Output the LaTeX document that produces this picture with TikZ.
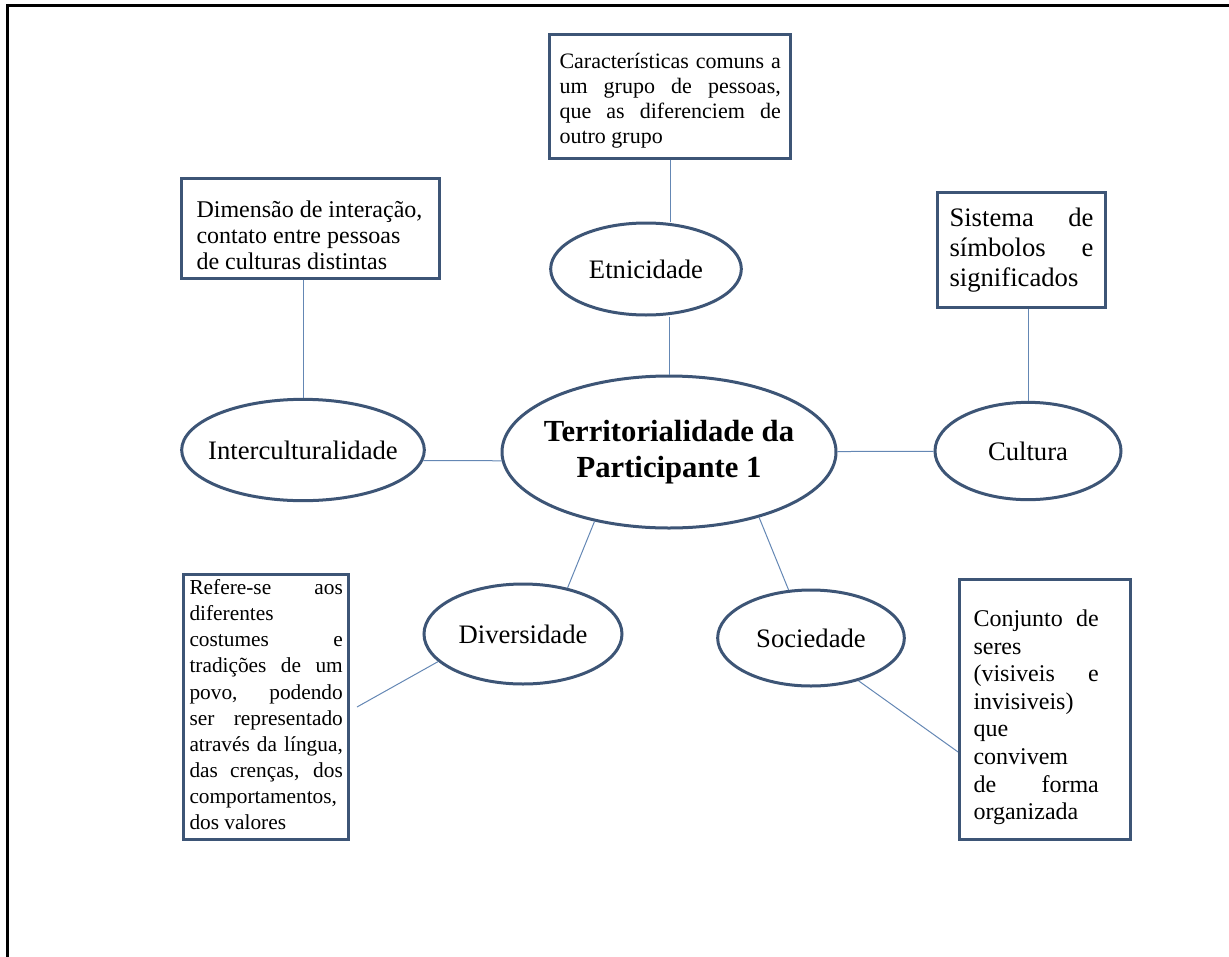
\documentclass[tikz,border=0pt]{standalone}
\usepackage{fontspec}
\setmainfont{Liberation Serif}
\usetikzlibrary{shapes.geometric}

\definecolor{shapeblue}{RGB}{61,85,118}
\definecolor{lineblue}{RGB}{100,135,180}
\newcommand{\justline}[2][\linewidth]{{\spaceskip=0pt\xspaceskip=0pt\makebox[#1][s]{#2}}}

\tikzset{
  concept/.style={ellipse, draw=shapeblue, line width=2.25pt, inner sep=0pt, font=\fontsize{20}{24}\selectfont},
  note/.style={rectangle, draw=shapeblue, line width=2.25pt, anchor=north west, align=flush left, inner ysep=0pt},
  link/.style={draw=lineblue, line width=0.75pt}
}

\begin{document}
\begin{tikzpicture}[x=0.75pt,y=0.75pt,yscale=-1,xscale=1]
\useasboundingbox (0,0) rectangle (1229,957);

%Frame
\draw [line width=2.25pt] (7,957) -- (7,5) -- (1229,5) ;

%Shape: Ellipse
\node [concept, minimum width=250.5pt, minimum height=114pt, inner xsep=-8pt, align=center, font=\bfseries\fontsize{23}{27}\selectfont] (centre) at (669,452) {Territorialidade da\\Participante 1};
\node [concept, minimum width=143pt, minimum height=69pt] (etnia) at (646,269) {Etnicidade};
\node [concept, minimum width=182pt, minimum height=76pt, inner xsep=-8pt] (inter) at (303,450) {Interculturalidade};
\node [concept, minimum width=139.5pt, minimum height=73pt] (cultura) at (1028,451) {Cultura};
\node [concept, minimum width=148.5pt, minimum height=75pt] (divers) at (523,634) {Diversidade};
\node [concept, minimum width=140pt, minimum height=72pt] (soc) at (811,638) {Sociedade};

%Shape: Rectangle
\node [note, text width=166pt, inner xsep=7.5pt, text height=25.5pt, text depth=67.5pt, font=\fontsize{16.5}{18.75}\selectfont] (etnicDesc) at (548,33)
  {\justline{Características comuns a}\\ \justline{um grupo de pessoas,}\\ \justline{que as diferenciem de}\\ outro grupo};
\node [note, text width=171pt, inner xsep=11.25pt, text height=29pt, text depth=46pt, font=\fontsize{18}{19.5}\selectfont] (interDesc) at (180,177)
  {Dimensão de interação,\\ contato entre pessoas\\ de culturas distintas};
\node [note, text width=108pt, inner xsep=9pt, text height=25.5pt, text depth=60.75pt, font=\fontsize{20}{22.5}\selectfont] (cultDesc) at (936,191)
  {\justline{Sistema de}\\ \justline{símbolos e}\\ significados};
\node [note, text width=115pt, inner xsep=4.5pt, text height=15pt, text depth=183.75pt, font=\fontsize{16}{19.6}\selectfont] (divDesc) at (182,573)
  {\justline{Refere-se aos}\\ diferentes\\ \justline{costumes e}\\ \justline{tradições de um}\\ \justline{povo, podendo}\\ \justline{ser representado}\\ \justline{através da língua,}\\ \justline{das crenças, dos}\\ comportamentos,\\ dos valores};
\node [note, text width=107.25pt, inner xsep=10.5pt, text height=35.25pt, text depth=159.75pt, font=\fontsize{18}{20.7}\selectfont] (socDesc) at (958,578)
  {\justline[94pt]{Conjunto de}\\ seres\\ \justline[94pt]{(visiveis e}\\ invisiveis)\\ que\\ convivem\\ \justline[94pt]{de forma}\\ organizada};
\coordinate (divTip) at (357,707);

%Straight Lines
\draw [link] (etnicDesc.south) -- (etnicDesc.south |- etnia.north) ;
\draw [link] (centre.north |- etnia.south) -- (centre.north) ;
\draw [link] (inter.north |- interDesc.south) -- (inter.north) ;
\draw [link] (inter.-5) -- (centre.183) ;
\draw [link] (centre) -- (cultura) ;
\draw [link] (cultura.north |- cultDesc.south) -- (cultura.north) ;
\draw [link] (centre.-137) -- (divers.46) ;
\draw [link] (divers.198) -- (divTip) ;
\draw [link] (centre.-36) -- (soc.115) ;
\draw [link] (soc.-42) -- (socDesc.206) ;

\end{tikzpicture}
\end{document}
